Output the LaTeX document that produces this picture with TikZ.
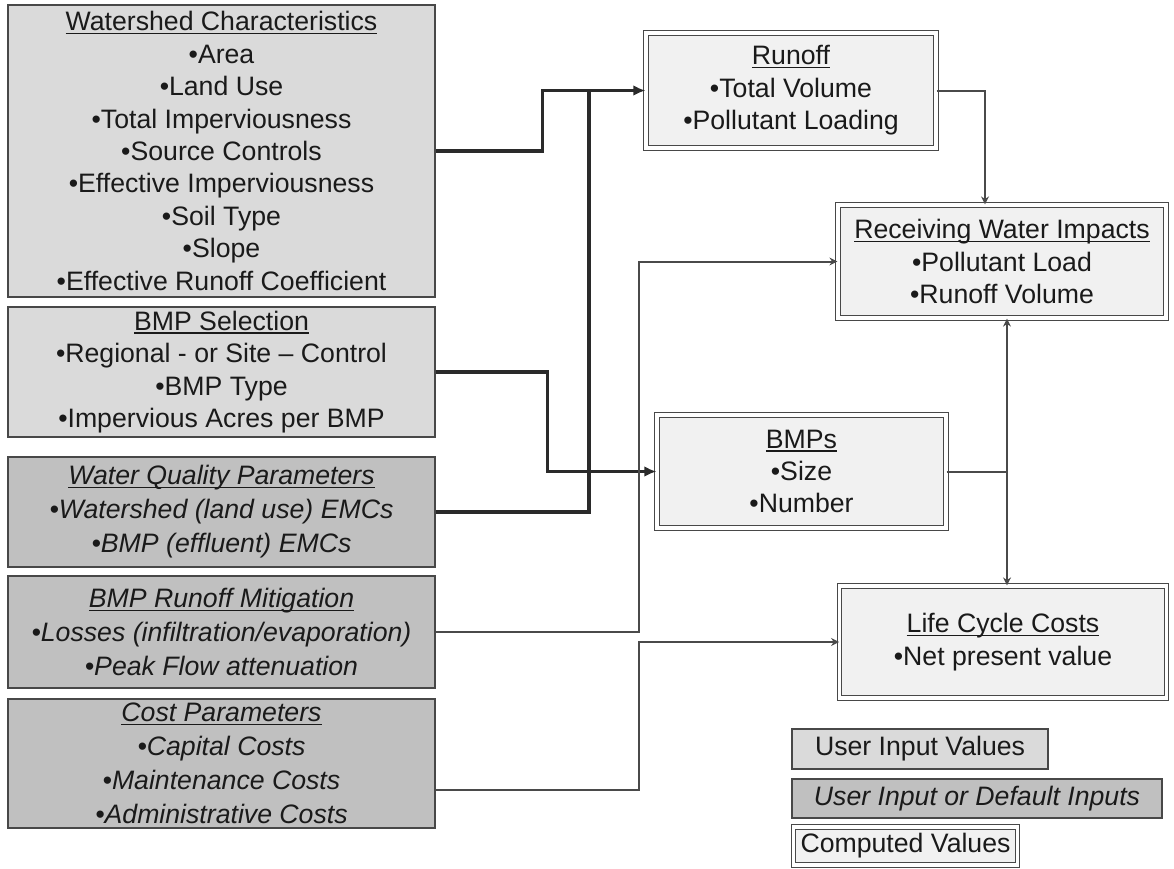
\documentclass[tikz,border=0pt]{standalone}
\usepackage{fontspec}
\setmainfont{Liberation Sans}
\usetikzlibrary{arrows.meta}
\definecolor{inputfill}{HTML}{DADADA}
\definecolor{deffill}{HTML}{C0C0C0}
\definecolor{compfill}{HTML}{F1F1F1}
\definecolor{edge}{HTML}{484848}
\definecolor{ink}{HTML}{1A1A1A}
\definecolor{wire}{HTML}{2A2A2A}
\newcommand\ult[1]{\sbox0{#1}\rlap{\rule[-2.6pt]{\wd0}{1.1pt}}\usebox0}
\begin{document}
\begin{tikzpicture}[x=0.75pt,y=-0.75pt,
  base/.style={inner sep=0pt, align=center, text=ink, font=\fontsize{20}{24.3}\selectfont},
  inputbox/.style={base, draw=edge, line width=1pt, fill=inputfill},
  defbox/.style={base, draw=edge, line width=1pt, fill=deffill, font=\fontsize{20}{25.5}\selectfont\itshape},
  compbox/.style={base, draw=edge, line width=0.9pt, double=white, double distance=2.4pt, fill=compfill},
  mainwire/.style={draw=wire, line width=2.3pt},
  mainarrow/.style={mainwire, -{Latex[length=9pt,width=8pt]}},
  sidewire/.style={draw=wire!85, line width=1.5pt},
  sidearrow/.style={sidewire, -{Stealth[length=6pt,width=6pt]}},
]
\useasboundingbox (0,0) rectangle (1174,868);

% input boxes (left column)
\node[inputbox, minimum width=320.25pt, minimum height=219pt] (ws) at (221.5,151)
  {\ult{Watershed Characteristics}\\•Area\\•Land Use\\•Total Imperviousness\\•Source Controls\\•Effective Imperviousness\\•Soil Type\\•Slope\\•Effective Runoff Coefficient};
\node[inputbox, minimum width=320.25pt, minimum height=97.5pt] (sel) at (221.5,372)
  {\ult{BMP Selection}\\•Regional - or Site – Control\\•BMP Type\\•Impervious Acres per BMP};
\node[defbox, minimum width=320.25pt, minimum height=82.5pt] (wq) at (221.5,512)
  {\ult{Water Quality Parameters}\\•Watershed (land use) EMCs\\•BMP (effluent) EMCs};
\node[defbox, minimum width=320.25pt, minimum height=84pt] (rm) at (221.5,632)
  {\ult{BMP Runoff Mitigation}\\•Losses (infiltration/evaporation)\\•Peak Flow attenuation};
\node[defbox, minimum width=320.25pt, minimum height=96.75pt] (cost) at (221.5,763.5)
  {\ult{Cost Parameters}\\•Capital Costs\\•Maintenance Costs\\•Administrative Costs};

% computed boxes
\node[compbox, minimum width=217.5pt, minimum height=86.25pt] (runoff) at (791,90.5)
  {\ult{Runoff}\\•Total Volume\\•Pollutant Loading};
\node[compbox, minimum width=246pt, minimum height=84.75pt] (rwi) at (1002,261.5)
  {\ult{Receiving Water Impacts}\\•Pollutant Load\\•Runoff Volume};
\node[compbox, minimum width=216.75pt, minimum height=84.75pt] (bmps) at (801.5,471.5)
  {\ult{BMPs}\\•Size\\•Number};
\node[compbox, minimum width=245pt, minimum height=84pt] (lcc) at (1003,642)
  {\ult{Life Cycle Costs}\\•Net present value};

% legend
\node[inputbox, minimum width=192pt, minimum height=30pt] (lg1) at (920,749) {User Input Values};
\node[defbox, minimum width=277.5pt, minimum height=29.25pt] (lg2) at (977,798.5) {User Input or Default Inputs};
\node[compbox, minimum width=168pt, minimum height=28.5pt] (lg3) at (905.5,846) {Computed Values};

% connectors
\coordinate (j1) at (589,90.5);
\coordinate (rdrop) at (985,0);
\coordinate (bsplit) at (1007,471.5);

\draw[mainarrow] (ws.east) -- ++(107,0) |- (runoff.west);
\draw[mainwire] (wq.east) -| (j1);
\draw[mainarrow] (sel.east) -- ++(112,0) |- (bmps.west);
\draw[sidearrow] (rm.east) -- ++(203,0) |- (rwi.west);
\draw[sidearrow] ([yshift=-20pt]cost.east) -- ++(203,0) |- (lcc.west);
\draw[sidearrow] (runoff.east) -| (rdrop |- rwi.north);
\draw[sidewire] (bmps.east) -- (bsplit);
\draw[sidearrow] (bsplit) -- (bsplit |- rwi.south);
\draw[sidearrow] (bsplit) -- (bsplit |- lcc.north);
\end{tikzpicture}
\end{document}
